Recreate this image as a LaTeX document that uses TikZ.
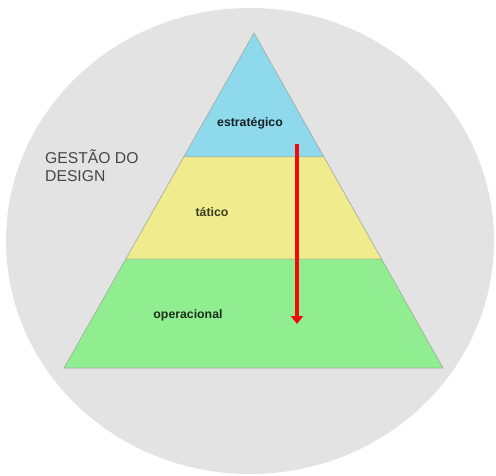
\documentclass[tikz,border=0pt]{standalone}
\usepackage{fontspec}
\setmainfont{Liberation Sans}
\usetikzlibrary{arrows.meta,calc}
\definecolor{discGray}{RGB}{227,227,227}
\definecolor{levelBlue}{RGB}{142,217,236}
\definecolor{levelYellow}{RGB}{240,236,142}
\definecolor{levelGreen}{RGB}{144,238,144}
\definecolor{edgeGray}{RGB}{160,170,160}
\definecolor{titleGray}{RGB}{70,70,70}
\definecolor{flowRed}{RGB}{240,10,10}
\tikzset{
  level band/.style={draw=edgeGray,line width=.6pt},
  level label/.style={font=\fontsize{12.3}{14}\selectfont\bfseries},
  flow arrow/.style={-{Triangle[width=12pt,length=8pt]},line width=4pt,draw=flowRed}
}

\begin{document}
\begin{tikzpicture}[x=1pt,y=-1pt]
        \useasboundingbox (0,0) rectangle (496,476);
        \fill[discGray] (250,241) ellipse [x radius=244,y radius=233];
        % pyramid corners
        \coordinate (apex) at (254,33);
        \coordinate (baseL) at (64,368);
        \coordinate (baseR) at (443,368);
        \coordinate (topL) at ($(apex)!.370!(baseL)$);
        \coordinate (topR) at ($(apex)!.370!(baseR)$);
        \coordinate (midL) at ($(apex)!.675!(baseL)$);
        \coordinate (midR) at ($(apex)!.675!(baseR)$);
        \draw[level band,fill=levelBlue] (apex) -- (topR) -- (topL) -- cycle;
        \draw[level band,fill=levelYellow] (topL) -- (topR) -- (midR) -- (midL) -- cycle;
        \draw[level band,fill=levelGreen] (midL) -- (midR) -- (baseR) -- (baseL) -- cycle;
        \node[level label,text=levelBlue!15!black] (estrategico) at (250,123) {estratégico};
        \node[level label,text=levelYellow!25!black] (tatico) at (212,212) {tático};
        \node[level label,text=levelGreen!20!black] (operacional) at (188,315) {operacional};
        \node[anchor=north west,align=left,text=titleGray,font=\fontsize{15.7}{18}\selectfont,inner sep=0pt] (gestao) at (45,150) {GESTÃO DO\\DESIGN};
        % descending flow
        \coordinate (flowStart) at (297,144);
        \coordinate (flowEnd) at (297,324);
        \draw[flow arrow] (flowStart) -- (flowEnd);
      \end{tikzpicture}
\end{document}
